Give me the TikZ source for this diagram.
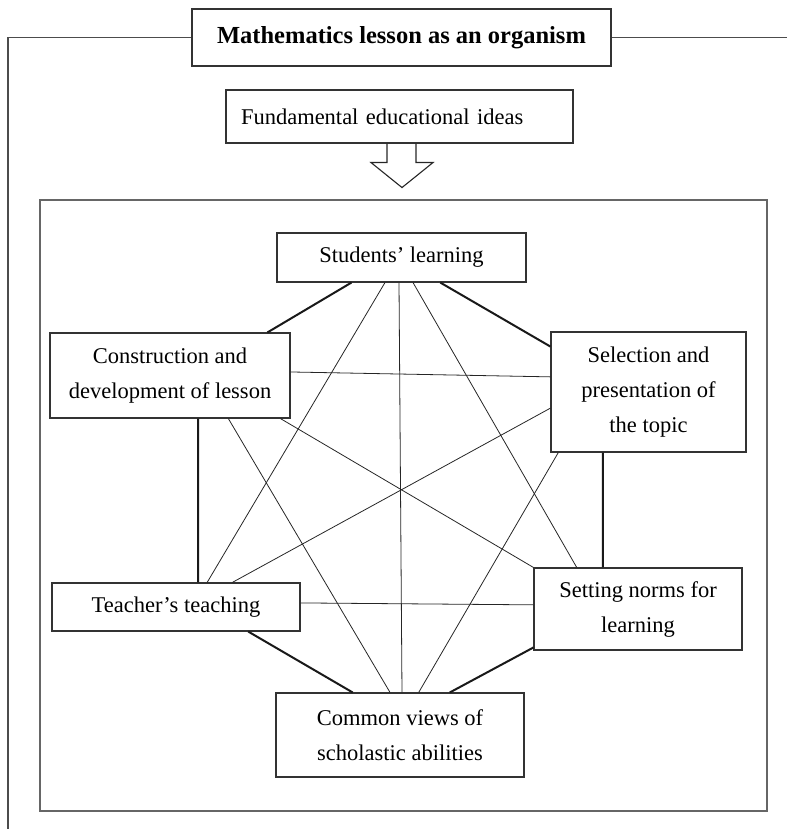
\documentclass[tikz,border=0pt]{standalone}
\usepackage{fontspec}
\setmainfont{Liberation Serif}
\usetikzlibrary{calc}
\begin{document}
\begin{tikzpicture}[x=1pt,y=-1pt,
  box/.style={draw=black!80, line width=1.1pt, inner sep=0pt, align=center,
    font=\fontsize{22.5}{35}\selectfont},
  hexedge/.style={line width=2pt, black!90},
  diagedge/.style={line width=0.8pt, black!85},
  frameline/.style={line width=1.1pt, black!70},
]
\useasboundingbox (0,0) rectangle (787,829);

% title and outer frame
\node[box, minimum width=419pt, minimum height=57pt, font=\fontsize{24.5}{30}\selectfont\bfseries]
  (title) at (401.5,37.5) {Mathematics lesson as an organism};
\draw[frameline] (title.west) -| (8,829);
\draw[frameline] (title.east) -- (787,37.5);

% fundamental ideas
\node[box, minimum width=347pt, minimum height=53pt, text width=317pt, align=left, inner xsep=15pt]
  (fund) at (399.5,116.5) {Fundamental educational ideas};

% hollow arrow
\draw[line width=1.1pt, black!85, line join=miter]
  ([xshift=-12.5pt]fund.south) -- ++(0,19) -- ++(-16,0) -- ++(31,25) -- ++(31,-25)
  -- ++(-17,0) -- ++(0,-19);

% inner frame
\node[draw=black!60, line width=1.2pt, inner sep=0pt, minimum width=727pt, minimum height=611pt]
  (frame) at (403.5,505.5) {};

% nodes
\node[box, minimum width=249pt, minimum height=49pt] (students) at (401.5,257.5) {Students’ learning};
\node[box, minimum width=240pt, minimum height=85pt] (constr) at (170,375.5) {Construction and\\development of lesson};
\node[box, minimum width=195pt, minimum height=120pt] (select) at (648.5,392) {Selection and\\presentation of\\the topic};
\node[box, minimum width=248pt, minimum height=48pt] (teacher) at (176,607) {Teacher’s teaching};
\node[box, minimum width=208pt, minimum height=82pt] (setting) at (638,609) {Setting norms for\\learning};
\node[box, minimum width=248pt, minimum height=84pt] (common) at (400,735) {Common views of\\scholastic abilities};

% hexagon edges (thick)
\draw[hexedge] ($(students.south west)!0.30!(students.south east)$) -- ($(constr.north west)!0.904!(constr.north east)$);
\draw[hexedge] ($(students.south west)!0.655!(students.south east)$) -- ($(select.north west)!0.125!(select.south west)$);
\draw[hexedge] ($(constr.south west)!0.617!(constr.south east)$) -- ($(teacher.north west)!0.589!(teacher.north east)$);
\draw[hexedge] ($(select.south west)!0.267!(select.south east)$) -- ($(setting.north west)!0.332!(setting.north east)$);
\draw[hexedge] ($(teacher.south west)!0.79!(teacher.south east)$) -- ($(common.north west)!0.31!(common.north east)$);
\draw[hexedge] ($(setting.north west)!0.963!(setting.south west)$) -- ($(common.north west)!0.70!(common.north east)$);

% diagonals (thin)
\draw[diagedge] ($(students.south west)!0.434!(students.south east)$) -- ($(teacher.north west)!0.625!(teacher.north east)$);
\draw[diagedge] ($(students.south west)!0.49!(students.south east)$) -- ($(common.north west)!0.508!(common.north east)$);
\draw[diagedge] ($(students.south west)!0.546!(students.south east)$) -- ($(setting.north west)!0.207!(setting.north east)$);
\draw[diagedge] ($(constr.north east)!0.459!(constr.south east)$) -- ($(select.north west)!0.375!(select.south west)$);
\draw[diagedge] ($(constr.south west)!0.958!(constr.south east)$) -- (setting.north west);
\draw[diagedge] ($(constr.south west)!0.742!(constr.south east)$) -- ($(common.north west)!0.46!(common.north east)$);
\draw[diagedge] ($(select.north west)!0.633!(select.south west)$) -- ($(teacher.north west)!0.726!(teacher.north east)$);
\draw[diagedge] ($(select.south west)!0.04!(select.south east)$) -- ($(common.north west)!0.575!(common.north east)$);
\draw[diagedge] ($(teacher.north east)!0.417!(teacher.south east)$) -- ($(setting.north west)!0.45!(setting.south west)$);
\end{tikzpicture}
\end{document}
